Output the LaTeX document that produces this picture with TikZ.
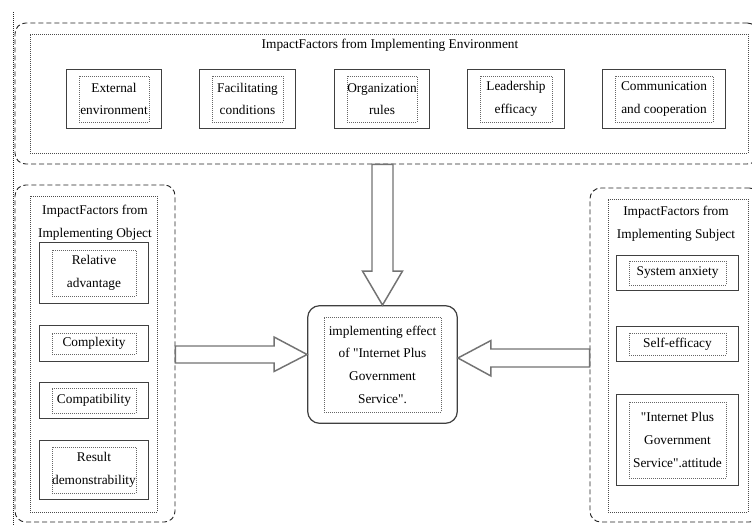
\documentclass[tikz,border=0pt]{standalone}
\usepackage{fontspec}
\setmainfont{Liberation Serif}
\usepackage{tikz}
\usetikzlibrary{calc, fit}

\begin{document}
\begin{tikzpicture}[x=0.75pt, y=-0.75pt,
  every node/.style={font=\fontsize{10}{17}\selectfont, text=black},
  outerframe/.style={draw=black!85, line width=0.7pt, dash pattern=on 3.75pt off 2.25pt, rounded corners=8pt, inner sep=0pt},
  innerframe/.style={draw=black!70, line width=0.5pt, densely dotted, inner sep=0pt},
  factor/.style={draw=black!60, line width=0.5pt, densely dotted, align=center, inner sep=0pt},
  factorbox/.style={draw=black!75, line width=0.9pt, inner xsep=9pt, inner ysep=4.5pt},
  blockarrow/.style={draw=black!55, line width=1.1pt, fill=white, line join=miter}]
\useasboundingbox (0,0) rectangle (752,525);

% Rahmen
\draw[innerframe, draw=black!85] (13,12) -- (13,525);
\node[outerframe, fit={(15,23) (758,164)}] (envouter) {};
\node[innerframe, fit={(30,34) (748,153)}] (envinner) {};
\node[outerframe, fit={(15,185) (175,522)}] (objouter) {};
\node[innerframe, fit={(30,196) (157,512)}] (objinner) {};
\node[outerframe, fit={(590,188) (760,522)}] (subjouter) {};
\node[innerframe, fit={(608,199) (748,512)}] (subjinner) {};

% Ueberschriften
\node (envtitle) at (390,45) {ImpactFactors from Implementing Environment};
\node[align=center] (objtitle) at (95,222.5) {ImpactFactors from\\Implementing Object};
\node[align=center] (subjtitle) at (676,223.5) {ImpactFactors from\\Implementing Subject};

% Umgebung
\node[factor, minimum width=52.5pt, minimum height=34.5pt] (ext) at (114,99) {External\\environment};
\node[factor, minimum width=53.25pt, minimum height=34.5pt] (fac) at (247.5,99) {Facilitating\\conditions};
\node[factor, minimum width=52.5pt, minimum height=34.5pt] (org) at (382,99) {Organization\\rules};
\node[factor, minimum width=54pt, minimum height=34.5pt] (lea) at (516,99) {Leadership\\efficacy};
\node[factor, minimum width=73.5pt, minimum height=34.5pt] (com) at (664,99) {Communication\\and cooperation};
\node[factorbox, fit=(ext)] (extbox) {};
\node[factorbox, fit=(fac)] (facbox) {};
\node[factorbox, fit=(org)] (orgbox) {};
\node[factorbox, fit=(lea)] (leabox) {};
\node[factorbox, fit=(com)] (combox) {};

% Objekt
\node[factor, minimum width=63pt, minimum height=34.5pt] (rel) at (94,273) {Relative\\advantage};
\node[factor, minimum width=63pt, minimum height=15.75pt] (cplx) at (94,343.5) {Complexity};
\node[factor, minimum width=63pt, minimum height=18.75pt] (cmpt) at (94,400.5) {Compatibility};
\node[factor, minimum width=63pt, minimum height=34.5pt] (res) at (94,470) {Result\\demonstrability};
\node[factorbox, inner ysep=5.25pt, fit=(rel)] (relbox) {};
\node[factorbox, inner ysep=5.25pt, fit=(cplx)] (cplxbox) {};
\node[factorbox, inner ysep=3.75pt, fit=(cmpt)] (cmptbox) {};
\node[factorbox, fit=(res)] (resbox) {};

% Subjekt
\node[factor, minimum width=72.75pt, minimum height=18pt] (anx) at (677.5,273) {System anxiety};
\node[factor, minimum width=72.75pt, minimum height=16.5pt] (self) at (677.5,344) {Self-efficacy};
\node[factor, minimum width=72.75pt, minimum height=57pt] (att) at (677.5,440) {\textquotedbl Internet Plus\\Government\\Service\textquotedbl.attitude};
\node[factorbox, inner ysep=3.75pt, fit=(anx)] (anxbox) {};
\node[factorbox, inner ysep=4.9pt, fit=(self)] (selfbox) {};
\node[factorbox, inner ysep=5.5pt, fit=(att)] (attbox) {};

% Wirkung
\node[factor, minimum width=87.75pt, minimum height=71.25pt] (effecttext) at (382.5,364.5) {implementing effect\\of \textquotedbl Internet Plus\\Government\\Service\textquotedbl.};
\node[draw=black!75, line width=0.9pt, rounded corners=9pt, inner xsep=12pt, inner ysep=8.25pt, fit=(effecttext)] (effect) {};

% Blockpfeile
\draw[blockarrow] (effect.north) -- ++(-20,-34) -- ++(9.5,0) coordinate (dl) -- (dl |- envouter.south) -- ++(21,0) coordinate (dr) -- (dr |- dl) -- ++(9.5,0) -- cycle;
\draw[blockarrow] ($(effect.west)+(0,-10)$) -- ++(-33,-17.5) -- ++(0,9) coordinate (lt) -- (lt -| objouter.east) -- ++(0,17) coordinate (lb) -- (lb -| lt) -- ++(0,8.5) -- cycle;
\draw[blockarrow] ($(effect.east)+(0,-6.5)$) -- ++(33,-17.5) -- ++(0,8.5) coordinate (rt) -- (rt -| subjouter.west) -- ++(0,18) coordinate (rb) -- (rb -| rt) -- ++(0,9) -- cycle;

\end{tikzpicture}
\end{document}
